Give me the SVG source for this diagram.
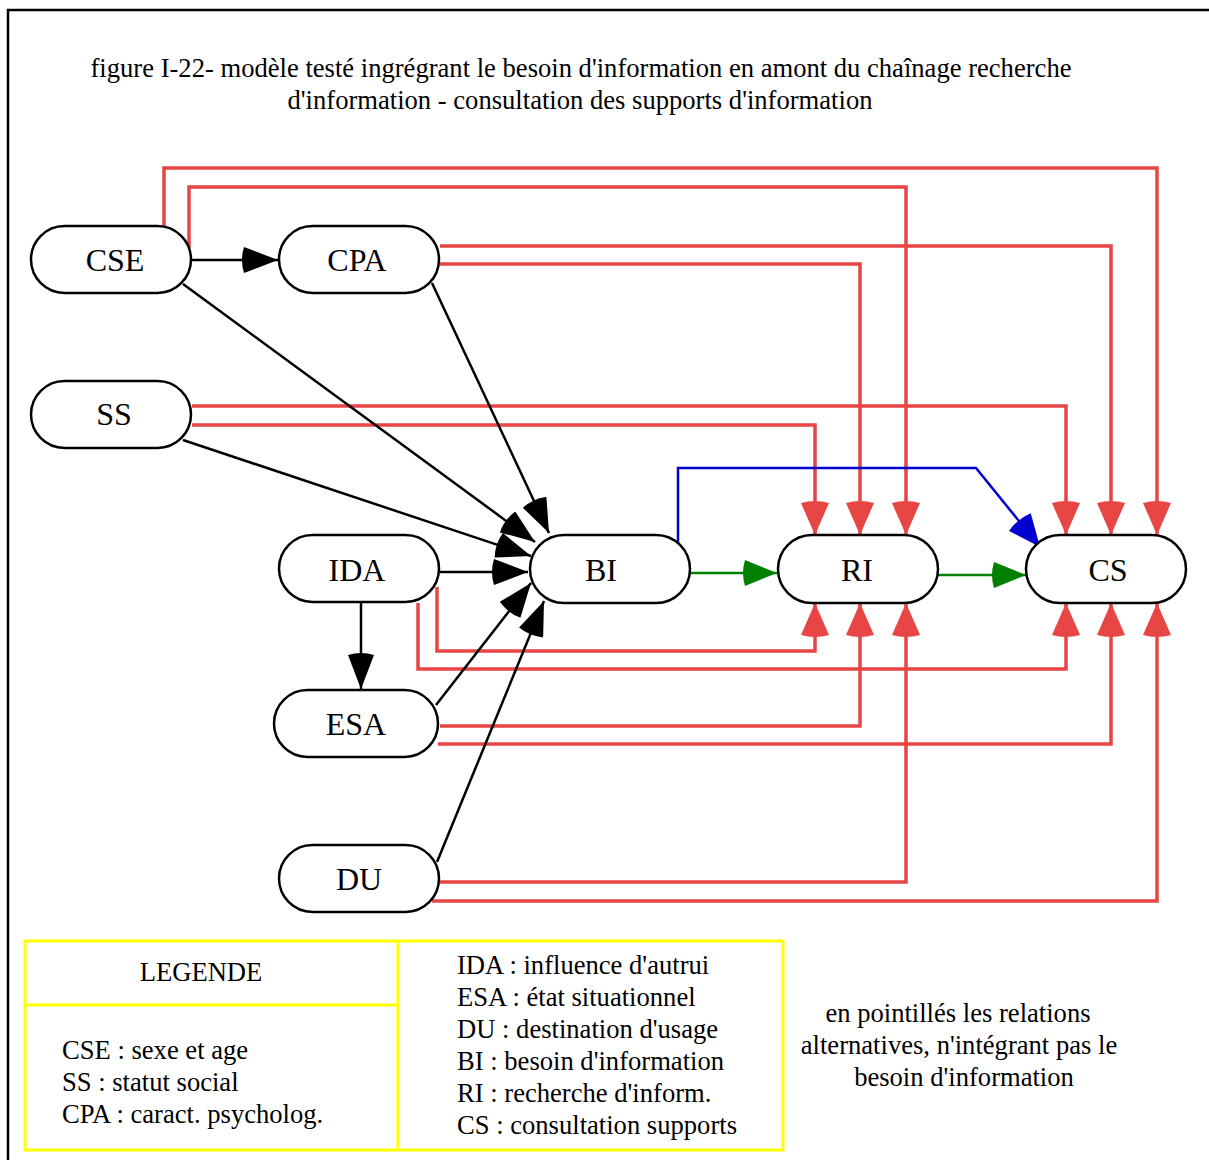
<svg xmlns="http://www.w3.org/2000/svg" width="1209" height="1160" viewBox="0 0 1209 1160">
<style>
text{font-family:"Liberation Serif","Times New Roman",serif;fill:#000}
.node rect{fill:#fff;stroke:#000;stroke-width:2.5}
.node text{font-size:32px;text-anchor:middle}
.blk{fill:none;stroke:#000;stroke-width:2.5}
.red{fill:none;stroke:#e84545;stroke-width:3.5}
.grn{fill:none;stroke:#008000;stroke-width:2.5}
.blu{fill:none;stroke:#0000d0;stroke-width:2.5}
.leg{font-size:26.6px}
.ttl{font-size:26.6px;text-anchor:middle}
</style>
<defs>
<marker id="ab" markerUnits="userSpaceOnUse" viewBox="-4 0 38 26" refX="34" refY="13" markerWidth="38" markerHeight="26" orient="auto"><path d="M0,0 Q-4,13 0,26 L34,13 Z" fill="#000"/></marker>
<marker id="ar" markerUnits="userSpaceOnUse" viewBox="-4 0 36 28" refX="32" refY="14" markerWidth="36" markerHeight="28" orient="auto"><path d="M0,0 Q-4,14 0,28 L32,14 Z" fill="#e84545"/></marker>
<marker id="ag" markerUnits="userSpaceOnUse" viewBox="-4 0 36 26" refX="32" refY="13" markerWidth="36" markerHeight="26" orient="auto"><path d="M0,0 Q-4,13 0,26 L32,13 Z" fill="#008000"/></marker>
<marker id="abl" markerUnits="userSpaceOnUse" viewBox="-4 0 36 28" refX="32" refY="14" markerWidth="36" markerHeight="28" orient="auto"><path d="M0,0 Q-4,14 0,28 L32,14 Z" fill="#0000d0"/></marker>
</defs>
<rect x="0" y="0" width="1209" height="1160" fill="#fff"/>
<rect x="8" y="10" width="1230" height="1180" fill="none" stroke="#000" stroke-width="2.5"/>
<text class="ttl" x="581" y="77">figure I-22- modèle testé ingrégrant le besoin d'information en amont du chaînage recherche</text>
<text class="ttl" x="580" y="109">d'information - consultation des supports d'information</text>
<g id="connectors">
<path class="red" d="M164,228 V168 H1157 V535" marker-end="url(#ar)"/>
<path class="red" d="M189,248 V187 H906 V535" marker-end="url(#ar)"/>
<path class="red" d="M440,246 H1111 V535" marker-end="url(#ar)"/>
<path class="red" d="M440,264 H860 V535" marker-end="url(#ar)"/>
<path class="red" d="M192,406 H1066 V535" marker-end="url(#ar)"/>
<path class="red" d="M192,425 H815 V535" marker-end="url(#ar)"/>
<path class="red" d="M437,587 V651 H815 V603" marker-end="url(#ar)"/>
<path class="red" d="M418,603 V669 H1066 V603" marker-end="url(#ar)"/>
<path class="red" d="M440,726 H860 V603" marker-end="url(#ar)"/>
<path class="red" d="M438,744 H1111 V603" marker-end="url(#ar)"/>
<path class="red" d="M440,882 H906 V603" marker-end="url(#ar)"/>
<path class="red" d="M432,901 H1157 V603" marker-end="url(#ar)"/>
<path class="blk" d="M192,260 L278,260" marker-end="url(#ab)"/>
<path class="blk" d="M432,283 L549,533" marker-end="url(#ab)"/>
<path class="blk" d="M183,284 L535,542" marker-end="url(#ab)"/>
<path class="blk" d="M183,440 L531,556" marker-end="url(#ab)"/>
<path class="blk" d="M440,572 L528,572" marker-end="url(#ab)"/>
<path class="blk" d="M436,705 L531,583" marker-end="url(#ab)"/>
<path class="blk" d="M437,862 L544,601" marker-end="url(#ab)"/>
<path class="blk" d="M361,602 L361,689" marker-end="url(#ab)"/>
<path class="grn" d="M690,573 L777,573" marker-end="url(#ag)"/>
<path class="grn" d="M938,575 L1026,575" marker-end="url(#ag)"/>
<path class="blu" d="M678,545 V468 H976 L1040,547" marker-end="url(#abl)"/>
</g>
<g id="CSE" class="node"><rect x="31" y="226" width="160" height="67" rx="33.5"/><text x="115" y="271">CSE</text></g>
<g id="CPA" class="node"><rect x="279" y="226" width="160" height="67" rx="33.5"/><text x="357" y="271">CPA</text></g>
<g id="SS" class="node"><rect x="31" y="381" width="160" height="67" rx="33.5"/><text x="114" y="425">SS</text></g>
<g id="IDA" class="node"><rect x="279" y="535" width="160" height="67" rx="33.5"/><text x="357" y="581">IDA</text></g>
<g id="ESA" class="node"><rect x="274" y="690" width="164" height="67" rx="33.5"/><text x="356" y="735">ESA</text></g>
<g id="DU" class="node"><rect x="279" y="845" width="160" height="67" rx="33.5"/><text x="359" y="890">DU</text></g>
<g id="BI" class="node"><rect x="530" y="535" width="160" height="68" rx="34"/><text x="601" y="581">BI</text></g>
<g id="RI" class="node"><rect x="778" y="535" width="160" height="68" rx="34"/><text x="857" y="581">RI</text></g>
<g id="CS" class="node"><rect x="1026" y="535" width="160" height="68" rx="34"/><text x="1108" y="581">CS</text></g>
<g id="legend">
<rect x="25" y="941" width="758" height="209" fill="none" stroke="#ffff00" stroke-width="3"/>
<line x1="398" y1="941" x2="398" y2="1150" stroke="#ffff00" stroke-width="3"/>
<line x1="25" y1="1005" x2="398" y2="1005" stroke="#ffff00" stroke-width="3"/>
<text class="leg" x="201" y="981" text-anchor="middle">LEGENDE</text>
<text class="leg" x="62" y="1059">CSE : sexe et age</text>
<text class="leg" x="62" y="1091">SS : statut social</text>
<text class="leg" x="62" y="1123">CPA : caract. psycholog.</text>
<text class="leg" x="457" y="974">IDA : influence d'autrui</text>
<text class="leg" x="457" y="1006">ESA : état situationnel</text>
<text class="leg" x="457" y="1038">DU : destination d'usage</text>
<text class="leg" x="457" y="1070">BI : besoin d'information</text>
<text class="leg" x="457" y="1102">RI : recherche d'inform.</text>
<text class="leg" x="457" y="1134">CS : consultation supports</text>
</g>
<g id="note">
<text class="leg" x="958" y="1022" text-anchor="middle">en pointillés les relations</text>
<text class="leg" x="959" y="1054" text-anchor="middle">alternatives, n'intégrant pas le</text>
<text class="leg" x="964" y="1086" text-anchor="middle">besoin d'information</text>
</g>
</svg>
